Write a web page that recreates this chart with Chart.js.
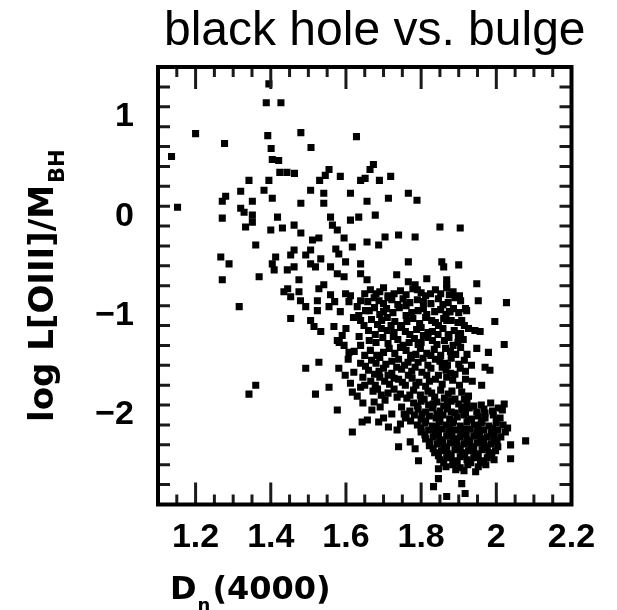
<!DOCTYPE html>
<html>
<head>
<meta charset="utf-8">
<script src="https://cdn.jsdelivr.net/npm/chart.js@4.4.1/dist/chart.umd.min.js"></script>
<style>
  html, body { margin: 0; padding: 0; background: #fff; }
  canvas { display: block; }
</style>
</head>
<body>
<canvas id="chart" width="617" height="610"></canvas>
<script>
// Axis ranges, tick values and tick labels
const xRange = [1.1, 2.2];
const yRange = [-2.9, 1.5];
const xTickValues = [1.2, 1.4, 1.6, 1.8, 2.0, 2.2];
const xTickLabels = ['1.2', '1.4', '1.6', '1.8', '2', '2.2'];
const yTickValues = [-2, -1, 0, 1];
const yTickLabels = ['\u22122', '\u22121', '0', '1'];
const xMajorStep = 0.2, xMinorStep = 0.05;
const yMajorStep = 1, yMinorStep = 0.2;

// Texts
const chartTitle = 'black hole vs. bulge';
const xTitle = ['D', 'n', '(4000)'];          // main, subscript, rest
const yTitle = ['log L[OIII]/M', 'BH'];       // main, subscript

// Galaxies: [Dn(4000), log L[OIII]/M_BH]
const outerGalaxies = [
  [1.395,1.33],[1.388,1.14],[1.427,1.14],[1.200,0.83],[1.392,0.81],[1.480,0.84],[1.628,0.80],[1.277,0.73],
  [1.507,0.69],[1.136,0.60],[1.401,0.68],[1.404,0.57],[1.421,0.56],[1.424,0.44],[1.443,0.44],[1.463,0.43],
  [1.555,0.47],[1.545,0.41],[1.585,0.40],[1.673,0.52],[1.664,0.47],[1.651,0.38],[1.689,0.36],[1.719,0.40],
  [1.342,0.36],[1.395,0.36],[1.530,0.36],[1.639,0.36],
  [1.382,0.26],[1.320,0.25],[1.506,0.26],[1.541,0.23],[1.612,0.23],[1.280,0.20],[1.271,0.15],[1.152,0.09],
  [1.351,0.15],[1.404,0.18],[1.480,0.13],[1.541,0.13],[1.320,0.08],[1.329,0.04],[1.271,-0.02],[1.351,0.01],
  [1.351,-0.06],[1.418,-0.01],[1.333,-0.11],[1.400,-0.14],[1.431,-0.12],[1.462,-0.09],[1.480,-0.17],[1.559,-0.01],
  [1.564,-0.09],[1.577,-0.14],[1.595,-0.22],[1.612,-0.04],[1.634,-0.01],[1.511,-0.24],[1.528,-0.22],[1.360,-0.29],
  [1.462,-0.34],[1.453,-0.39],[1.506,-0.34],[1.493,-0.39],[1.573,-0.33],[1.581,-0.38],[1.617,-0.31],[1.267,-0.41],
  [1.289,-0.48],[1.413,-0.41],[1.404,-0.48],[1.409,-0.54],[1.444,-0.54],[1.462,-0.51],[1.506,-0.48],[1.533,-0.43],
  [1.519,-0.51],[1.559,-0.51],[1.577,-0.58],[1.599,-0.46],[1.639,-0.48],[1.271,-0.64],[1.369,-0.61],[1.475,-0.64],
  [1.595,-0.61],[1.639,-0.58],[1.541,-0.69],
  [1.713,0.18],[1.766,0.23],[1.789,0.16],[1.656,0.15],[1.678,0.01],[1.850,-0.11],[1.904,-0.12],[1.704,-0.21],
  [1.740,-0.19],[1.784,-0.21],[1.656,-0.26],[1.687,-0.29],[1.766,-0.46],[1.855,-0.46],[1.860,-0.51],[1.900,-0.49],
  [1.735,-0.59],[1.656,-0.64],[1.766,-0.66],[1.784,-0.69],[1.815,-0.63],[1.868,-0.64],[1.868,-0.69],[1.948,-0.68],
  [1.316,-0.91],[1.435,-0.76],[1.453,-0.81],[1.475,-0.76],[1.479,-0.85],[1.453,-1.03],[1.493,-0.91],[1.506,-1.05],
  [1.515,-1.11],[1.528,-0.73],[1.524,-0.85],[1.524,-0.95],[1.559,-0.79],[1.555,-0.91],[1.599,-0.78],[1.608,-0.86],
  [1.533,-1.16],[1.568,-1.11],[1.577,-1.25],[1.595,-1.30],[1.608,-1.37],[1.630,-0.91],[1.639,-0.85],[1.639,-1.05],
  [1.635,-1.21],[1.639,-1.30],[1.528,-1.47],[1.493,-1.53],[1.581,-1.53],[1.621,-1.57],[1.639,-1.48],[1.360,-1.70],
  [1.342,-1.79],[1.555,-1.72],[1.519,-1.79],[1.617,-1.77],[1.639,-1.72],[1.445,-0.73],[1.612,-0.80],[1.590,-1.20],
  [1.600,-1.13],[1.622,-1.36],[1.645,-1.62],[1.630,-1.81],
  [1.634,-1.00],[1.648,-1.10],[1.582,-1.27],[1.650,-1.40],[1.606,-1.44],[1.652,-1.51],[1.598,-1.60],[1.650,-1.70],
  [1.612,-1.68],[1.645,-1.88],[1.620,-1.02],[1.652,-0.95],[1.650,-0.78],[1.585,-0.96],[1.570,-0.86],
  [1.577,-1.95],[1.617,-2.17],[1.643,-2.07],[1.669,-1.95],[1.691,-1.92],[1.704,-1.85],[1.722,-1.99],[1.687,-2.07],
  [1.713,-2.12],[1.736,-2.15],[1.657,-2.05],[1.740,-2.32],[1.784,-2.34],[1.771,-2.27],[1.793,-2.46],[1.846,-2.64],
  [1.833,-2.72],[1.868,-2.82],[1.908,-2.69],[1.917,-2.79],[1.675,-1.87],[1.700,-2.03],[1.745,-2.09],[1.758,-2.02],
  [1.748,-1.92],[1.755,-1.99],
  [2.021,-1.89],[2.016,-1.95],[1.967,-1.94],[2.038,-2.30],[2.078,-2.26],[2.038,-2.44],[1.945,-2.57],[1.846,-2.54],
  [2.027,-0.87],[1.996,-1.06],[2.021,-1.29],[1.952,-0.85],[1.943,-1.15],[1.957,-1.16],[1.948,-1.33],[1.979,-1.37],
  [1.934,-1.50],[1.970,-1.52],[1.983,-1.55],[1.961,-1.70],[1.921,-0.95],[1.908,-1.05],[1.877,-0.96],[1.868,-1.05],
  [1.899,-1.20],[1.926,-1.13]
];

const bodyGalaxies = [
  [1.665,-0.74],[1.680,-0.78],[1.700,-0.72],[1.712,-0.80],[1.745,-0.75],[1.760,-0.79],[1.778,-0.73],[1.800,-0.77],
  [1.812,-0.80],[1.838,-0.74],[1.852,-0.78],[1.868,-0.72],[1.885,-0.76],[1.902,-0.80],
  [1.690,-0.76],[1.728,-0.78],[1.790,-0.74],[1.825,-0.78],[1.875,-0.79],
  [1.658,-0.86],[1.675,-0.82],[1.700,-0.88],[1.722,-0.84],[1.738,-0.89],[1.752,-0.83],[1.770,-0.87],[1.790,-0.84],
  [1.826,-0.88],[1.846,-0.83],[1.872,-0.87],[1.890,-0.82],
  [1.688,-0.85],[1.712,-0.82],[1.760,-0.90],[1.806,-0.86],[1.858,-0.89],[1.905,-0.85],
  [1.662,-0.95],[1.690,-0.99],[1.708,-0.93],[1.725,-0.97],[1.742,-0.92],[1.760,-1.00],[1.792,-0.95],[1.815,-0.99],
  [1.852,-0.94],[1.866,-0.99],[1.886,-0.93],[1.900,-0.97],[1.918,-0.93],
  [1.676,-0.92],[1.700,-0.96],[1.775,-0.97],[1.806,-0.93],[1.836,-0.96],[1.875,-0.96],
  [1.668,-1.04],[1.684,-1.09],[1.710,-1.02],[1.730,-1.06],[1.748,-1.10],[1.778,-1.03],[1.796,-1.08],[1.828,-1.05],
  [1.846,-1.10],[1.860,-1.03],[1.898,-1.07],[1.915,-1.10],
  [1.695,-1.05],[1.720,-1.10],[1.762,-1.06],[1.812,-1.02],[1.838,-1.07],[1.880,-1.05],
  [1.660,-1.15],[1.678,-1.19],[1.694,-1.13],[1.728,-1.17],[1.745,-1.12],[1.770,-1.19],[1.788,-1.14],[1.806,-1.20],
  [1.830,-1.16],[1.858,-1.13],[1.872,-1.19],[1.888,-1.15],
  [1.710,-1.15],[1.758,-1.16],[1.800,-1.12],[1.818,-1.17],[1.845,-1.19],[1.905,-1.18],
  [1.662,-1.25],[1.698,-1.22],[1.712,-1.28],[1.738,-1.24],[1.752,-1.30],[1.782,-1.23],[1.800,-1.27],[1.818,-1.22],
  [1.842,-1.29],[1.862,-1.25],[1.885,-1.30],[1.912,-1.24],
  [1.680,-1.27],[1.726,-1.21],[1.768,-1.27],[1.792,-1.29],[1.830,-1.25],[1.874,-1.22],[1.898,-1.27],
  [1.665,-1.35],[1.682,-1.40],[1.715,-1.33],[1.730,-1.38],[1.760,-1.35],[1.772,-1.40],[1.798,-1.33],[1.815,-1.38],
  [1.835,-1.34],[1.852,-1.40],[1.878,-1.36],[1.905,-1.32],[1.922,-1.39],
  [1.700,-1.37],[1.745,-1.32],[1.786,-1.39],[1.826,-1.40],[1.865,-1.33],[1.892,-1.39],
  [1.668,-1.45],[1.690,-1.42],[1.706,-1.49],[1.740,-1.44],[1.756,-1.50],[1.774,-1.43],[1.792,-1.47],[1.818,-1.50],
  [1.838,-1.44],[1.862,-1.48],[1.880,-1.43],[1.900,-1.49],
  [1.680,-1.48],[1.722,-1.46],[1.765,-1.47],[1.805,-1.43],[1.850,-1.46],[1.870,-1.50],[1.915,-1.45],
  [1.660,-1.55],[1.676,-1.59],[1.700,-1.53],[1.722,-1.58],[1.748,-1.54],[1.766,-1.60],[1.784,-1.52],[1.802,-1.57],
  [1.826,-1.53],[1.846,-1.60],[1.866,-1.55],[1.890,-1.59],[1.918,-1.56],
  [1.688,-1.56],[1.712,-1.60],[1.735,-1.52],[1.775,-1.56],[1.815,-1.60],[1.856,-1.52],[1.878,-1.58],[1.904,-1.53],
  [1.666,-1.66],[1.690,-1.62],[1.716,-1.69],[1.740,-1.64],[1.758,-1.70],[1.776,-1.63],[1.794,-1.67],[1.812,-1.71],
  [1.838,-1.64],[1.856,-1.69],[1.884,-1.65],[1.902,-1.70],[1.936,-1.66],
  [1.678,-1.70],[1.703,-1.66],[1.728,-1.63],[1.750,-1.67],[1.786,-1.70],[1.822,-1.66],[1.868,-1.62],[1.918,-1.64],
  [1.672,-1.76],[1.694,-1.80],[1.728,-1.74],[1.745,-1.79],[1.762,-1.83],[1.780,-1.75],[1.798,-1.80],[1.818,-1.76],
  [1.836,-1.82],[1.852,-1.75],[1.872,-1.79],[1.890,-1.84],[1.908,-1.77],[1.926,-1.81],
  [1.684,-1.74],[1.712,-1.78],[1.736,-1.82],[1.770,-1.80],[1.808,-1.84],[1.828,-1.78],[1.862,-1.83],[1.882,-1.76],
  [1.915,-1.84]
];

const coreGalaxies = [
  [1.780,-1.88],[1.800,-1.86],[1.820,-1.90],[1.842,-1.87],[1.860,-1.91],[1.880,-1.86],[1.900,-1.89],[1.922,-1.87],
  [1.940,-1.91],[1.985,-1.88],
  [1.790,-1.91],[1.832,-1.89],[1.870,-1.89],[1.912,-1.92],[1.960,-1.90],
  [1.770,-1.96],[1.792,-1.94],[1.812,-1.97],[1.830,-1.93],[1.850,-1.96],[1.870,-1.94],[1.890,-1.98],[1.908,-1.95],
  [1.928,-1.93],[1.948,-1.97],[1.990,-1.96],[2.005,-1.93],
  [1.802,-1.99],[1.842,-1.99],[1.880,-1.97],[1.918,-1.98],[1.970,-1.98],
  [1.760,-2.03],[1.782,-2.00],[1.800,-2.04],[1.822,-2.01],[1.840,-2.03],[1.858,-2.00],[1.876,-2.04],[1.896,-2.02],
  [1.914,-2.00],[1.934,-2.04],[1.952,-2.01],[1.970,-2.03],[1.992,-2.00],[2.010,-2.03],
  [1.772,-2.06],[1.812,-2.06],[1.850,-2.05],[1.886,-2.06],[1.926,-2.05],[1.962,-2.06],[2.000,-2.05],
  [1.790,-2.10],[1.810,-2.08],[1.830,-2.11],[1.848,-2.07],[1.866,-2.10],[1.884,-2.08],[1.904,-2.11],[1.922,-2.07],
  [1.942,-2.10],[1.960,-2.08],[1.980,-2.11],[2.000,-2.08],[2.018,-2.10],
  [1.800,-2.13],[1.840,-2.13],[1.876,-2.13],[1.914,-2.14],[1.952,-2.13],[1.990,-2.13],[2.030,-2.13],
  [1.800,-2.17],[1.820,-2.15],[1.838,-2.18],[1.856,-2.14],[1.874,-2.17],[1.892,-2.15],[1.910,-2.18],[1.930,-2.14],
  [1.948,-2.17],[1.966,-2.15],[1.986,-2.18],[2.004,-2.15],[2.024,-2.17],
  [1.810,-2.20],[1.846,-2.20],[1.882,-2.20],[1.920,-2.19],[1.956,-2.20],[1.994,-2.20],
  [1.812,-2.24],[1.832,-2.22],[1.850,-2.25],[1.868,-2.21],[1.886,-2.24],[1.904,-2.22],[1.922,-2.25],[1.940,-2.21],
  [1.958,-2.24],[1.976,-2.22],[1.994,-2.25],[2.012,-2.22],
  [1.822,-2.27],[1.858,-2.27],[1.894,-2.27],[1.930,-2.27],[1.966,-2.27],[2.002,-2.27],
  [1.822,-2.31],[1.842,-2.29],[1.860,-2.32],[1.878,-2.28],[1.896,-2.31],[1.914,-2.29],[1.932,-2.32],[1.950,-2.28],
  [1.968,-2.31],[1.986,-2.29],[2.004,-2.32],
  [1.832,-2.34],[1.868,-2.34],[1.904,-2.34],[1.940,-2.34],[1.976,-2.33],
  [1.836,-2.38],[1.854,-2.36],[1.872,-2.39],[1.890,-2.35],[1.908,-2.38],[1.926,-2.36],[1.944,-2.39],[1.962,-2.35],
  [1.980,-2.38],[1.998,-2.36],
  [1.846,-2.41],[1.880,-2.41],[1.916,-2.40],[1.952,-2.41],[1.988,-2.40],
  [1.850,-2.45],[1.868,-2.43],[1.886,-2.46],[1.904,-2.42],[1.922,-2.45],[1.940,-2.43],[1.958,-2.46],[1.976,-2.43],
  [1.994,-2.45],
  [1.860,-2.48],[1.896,-2.48],[1.932,-2.48],[1.966,-2.48],
  [1.866,-2.52],[1.884,-2.50],[1.904,-2.53],[1.924,-2.50],[1.952,-2.52],[1.972,-2.50],
  [1.892,-2.55],[1.914,-2.56]
];

const galaxies = outerGalaxies.concat(bodyGalaxies, coreGalaxies);

// Boxed frame with inward major/minor ticks on all four sides, plus titles
const frameAndTitles = {
  id: 'frameAndTitles',
  afterDraw(chart) {
    const { ctx, chartArea: a, scales: { x, y } } = chart;
    ctx.save();

    // ticks
    ctx.strokeStyle = '#1a1a1a';
    ctx.lineWidth = 3;
    ctx.lineCap = 'butt';
    const majLen = 22, minLen = 10;
    const nx = Math.round((xRange[1] - xRange[0]) / xMinorStep);
    for (let i = 0; i <= nx; i++) {
      const v = xRange[0] + i * xMinorStep;
      const r = v / xMajorStep;
      const len = Math.abs(r - Math.round(r)) < 1e-6 ? majLen : minLen;
      const px = x.getPixelForValue(v);
      ctx.beginPath();
      ctx.moveTo(px, a.bottom); ctx.lineTo(px, a.bottom - len);
      ctx.moveTo(px, a.top); ctx.lineTo(px, a.top + len);
      ctx.stroke();
    }
    const ny = Math.round((yRange[1] - yRange[0]) / yMinorStep);
    for (let i = 0; i <= ny; i++) {
      const v = yRange[0] + i * yMinorStep;
      const r = v / yMajorStep;
      const len = Math.abs(r - Math.round(r)) < 1e-6 ? majLen + 3 : minLen + 2;
      const py = y.getPixelForValue(v);
      ctx.beginPath();
      ctx.moveTo(a.left, py); ctx.lineTo(a.left + len, py);
      ctx.moveTo(a.right, py); ctx.lineTo(a.right - len, py);
      ctx.stroke();
    }

    // frame
    ctx.strokeStyle = '#000';
    ctx.lineWidth = 4;
    ctx.strokeRect(a.left, a.top, a.right - a.left, a.bottom - a.top);

    // chart title
    ctx.fillStyle = '#000';
    ctx.font = '48px "Liberation Sans", Arial, sans-serif';
    ctx.textAlign = 'center';
    ctx.textBaseline = 'alphabetic';
    ctx.fillText(chartTitle, (a.left + a.right) / 2 + 10, 45);

    // x-axis title with subscript
    ctx.textAlign = 'left';
    let cx = 170;
    ctx.font = 'bold 32px "DejaVu Sans", sans-serif';
    ctx.fillText(xTitle[0], cx, 599);
    cx += ctx.measureText(xTitle[0]).width + 1;
    ctx.font = 'bold 18px "DejaVu Sans", sans-serif';
    ctx.fillText(xTitle[1], cx, 611);
    cx += ctx.measureText(xTitle[1]).width + 2;
    ctx.font = 'bold 32px "DejaVu Sans", sans-serif';
    ctx.fillText(xTitle[2], cx, 599);

    // y-axis title, rotated, with subscript
    ctx.save();
    ctx.translate(53, 422);
    ctx.rotate(-Math.PI / 2);
    ctx.font = 'bold 34px "DejaVu Sans", sans-serif';
    ctx.fillText(yTitle[0], 0, 0);
    const w = ctx.measureText(yTitle[0]).width;
    ctx.font = 'bold 21px "DejaVu Sans", sans-serif';
    ctx.fillText(yTitle[1], w + 2, 11);
    ctx.restore();

    ctx.restore();
  }
};

const tickFont = { family: '"Liberation Sans", Arial, sans-serif', size: 34, weight: 'bold' };

new Chart(document.getElementById('chart'), {
  type: 'scatter',
  data: {
    datasets: [{
      data: galaxies.map(([d, l]) => ({ x: d, y: l })),
      pointStyle: 'rect',
      pointRadius: 5,
      pointHoverRadius: 5,
      backgroundColor: '#000',
      borderWidth: 0
    }]
  },
  options: {
    responsive: false,
    animation: false,
    devicePixelRatio: 1,
    layout: { padding: { top: 67, right: 45.5, bottom: 0, left: 0 } },
    plugins: { legend: { display: false }, tooltip: { enabled: false }, title: { display: false } },
    scales: {
      x: {
        type: 'linear',
        min: xRange[0], max: xRange[1],
        afterBuildTicks: s => { s.ticks = xTickValues.map(v => ({ value: v })); },
        afterFit: s => { s.height = 105.5; },
        ticks: {
          callback: (v, i) => xTickLabels[i],
          font: tickFont, color: '#000', padding: 13,
          maxRotation: 0, minRotation: 0, autoSkip: false
        },
        grid: { display: false, drawTicks: false },
        border: { display: false }
      },
      y: {
        type: 'linear',
        min: yRange[0], max: yRange[1],
        afterBuildTicks: s => { s.ticks = yTickValues.map(v => ({ value: v })); },
        afterFit: s => { s.width = 158; },
        ticks: {
          callback: (v, i) => yTickLabels[i],
          font: tickFont, color: '#000', padding: 24, autoSkip: false
        },
        grid: { display: false, drawTicks: false },
        border: { display: false }
      }
    }
  },
  plugins: [frameAndTitles]
});
</script>
</body>
</html>
